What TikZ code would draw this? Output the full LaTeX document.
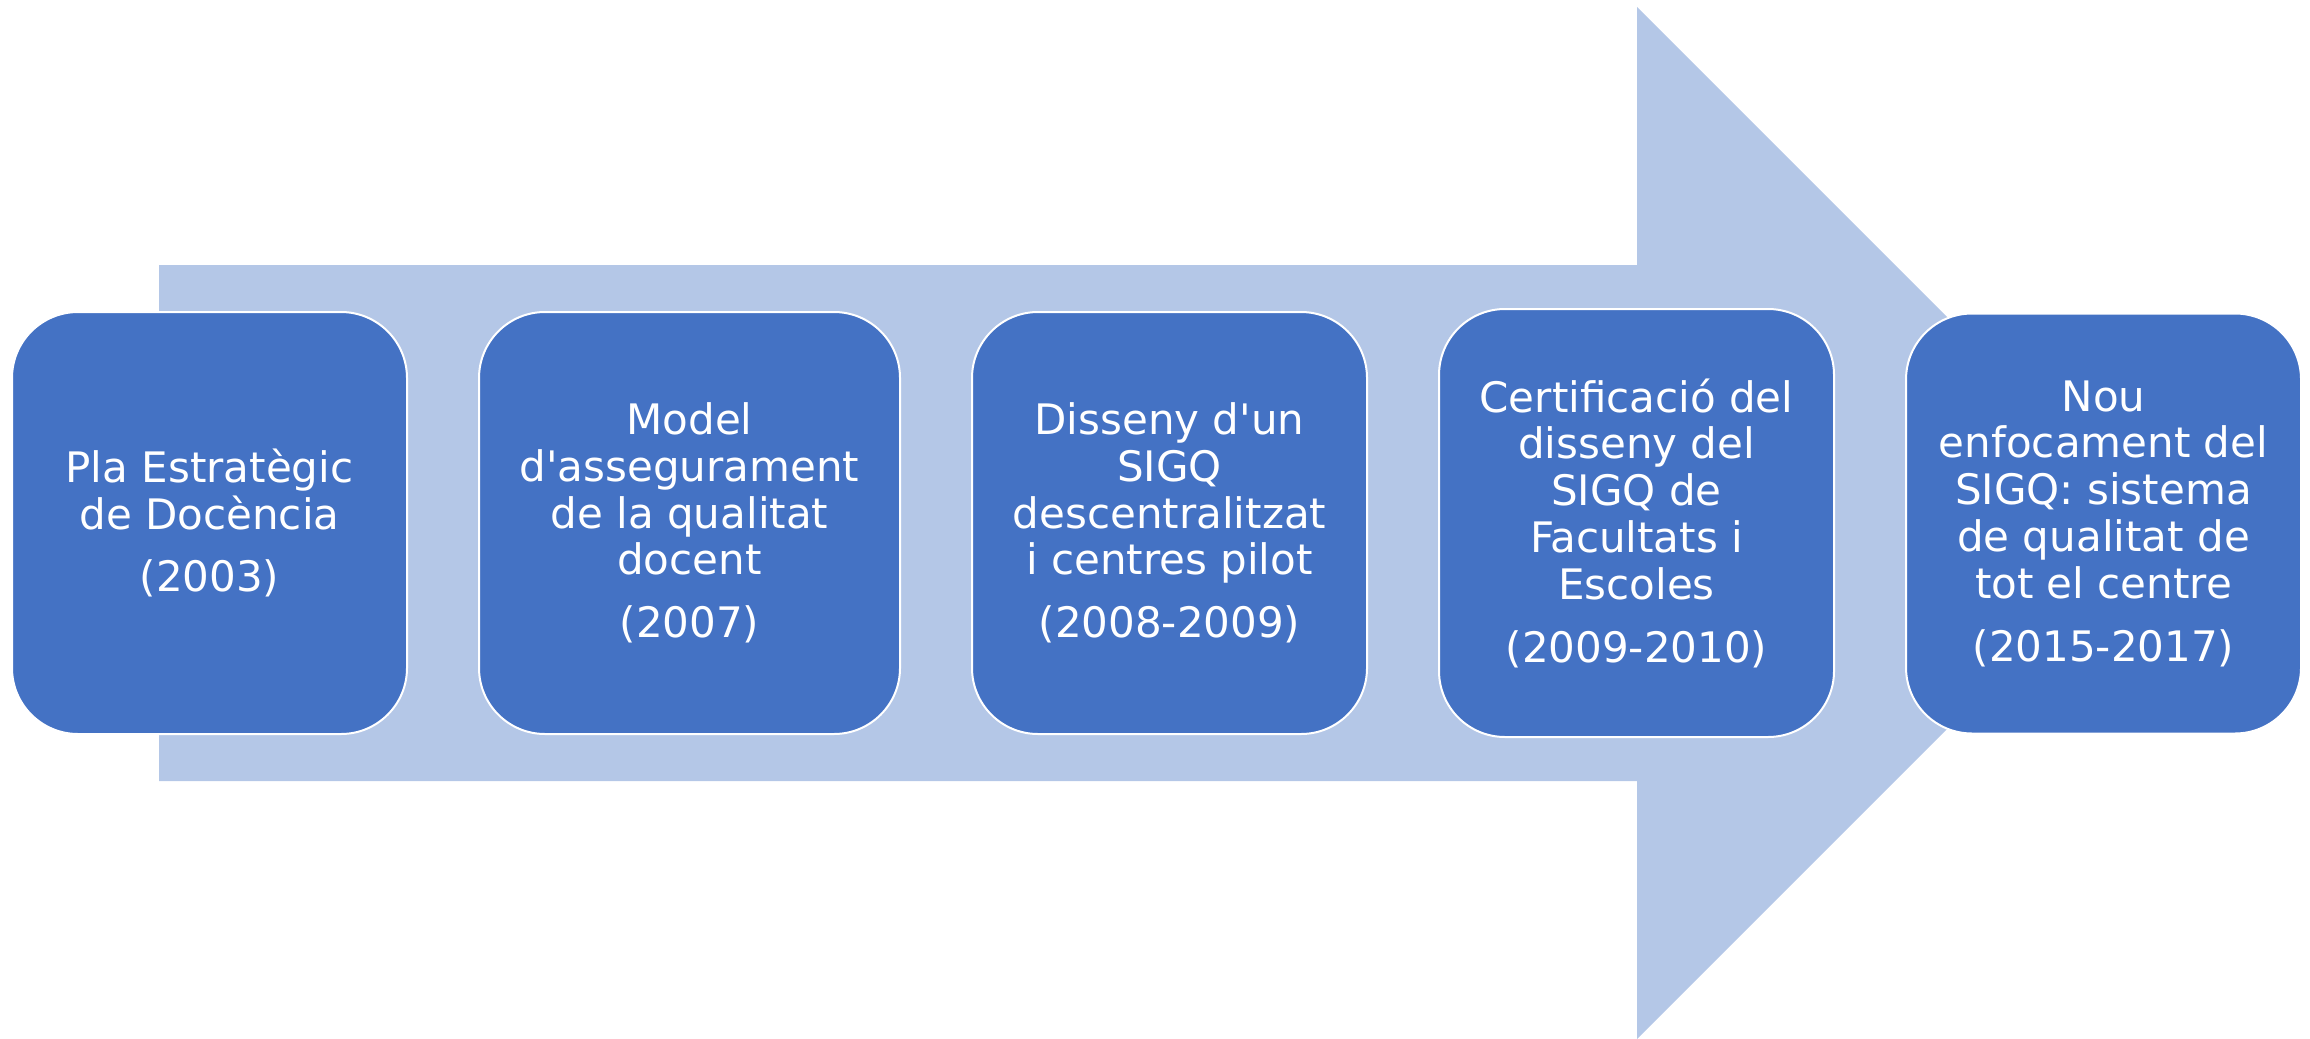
\documentclass[tikz,border=0pt]{standalone}
\usepackage{fontspec}
\setmainfont{DejaVu Sans}
\usepackage{tikz}

\definecolor{arrowfill}{HTML}{B4C7E7}
\definecolor{boxfill}{HTML}{4472C4}

\tikzset{
  stage/.style={draw=white,line width=1pt,fill=boxfill,rounded corners=33pt,
    text=white,align=center,minimum width=197.5pt,minimum height=211pt,
    inner sep=0pt,font=\fontsize{21}{23.4}\selectfont}
}

\begin{document}
\begin{tikzpicture}[x=0.5pt,y=-0.5pt]
  \useasboundingbox (0,0) rectangle (2310,1038);

  % big arrow behind the stages
  \fill[arrowfill] (159,265) -- (1637,265) -- (1637,7) -- (2153,523)
    -- (1637,1039) -- (1637,781) -- (159,781) -- cycle;

  \node[stage] (s1) at (209.5,523) {Pla Estratègic\\de Docència\\[8pt](2003)};
  \node[stage,minimum width=210.5pt] (s2) at (689.5,523)
    {Model\\d\textquotesingle assegurament\\de la qualitat\\docent\\[8pt](2007)};
  \node[stage] (s3) at (1169.5,523)
    {Disseny d\textquotesingle un\\SIGQ\\descentralitzat\\i centres pilot\\[8pt](2008-2009)};
  \node[stage,minimum height=214pt] (s4) at (1636.5,523)
    {Certificació del\\disseny del\\SIGQ de\\Facultats i\\Escoles\\[8pt](2009-2010)};
  \node[stage,minimum height=210pt] (s5) at (2103.5,523.5)
    {Nou\\enfocament del\\SIGQ: sistema\\de qualitat de\\tot el centre\\[8pt](2015-2017)};
\end{tikzpicture}
\end{document}
